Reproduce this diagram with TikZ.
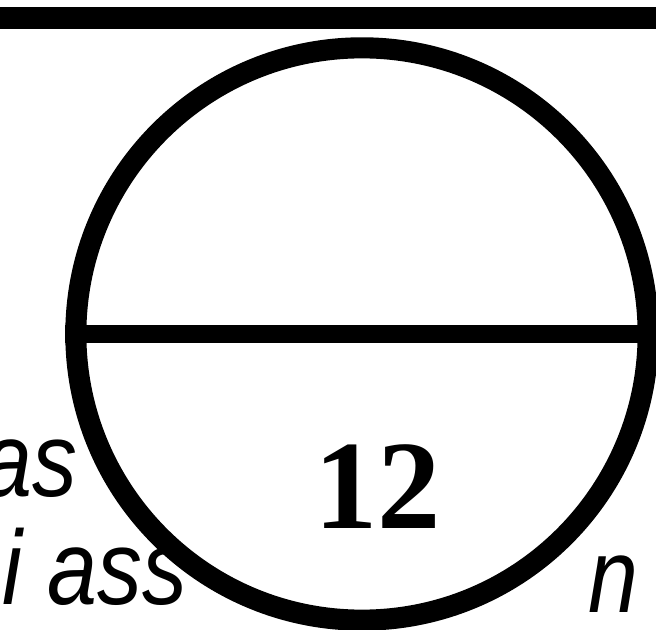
\documentclass[tikz,border=0pt]{standalone}
\usepackage{fontspec}
\usepackage{tikz}
\newfontfamily\scanfont{Liberation Sans}
\newfontfamily\numfont{Liberation Serif}

\begin{document}
\begin{tikzpicture}[x=0.01cm, y=-0.01cm, every node/.style={inner sep=0pt}]
  \useasboundingbox (0,0) rectangle (656,630);
  \tikzset{scan/.style={font=\scanfont\itshape\fontsize{30}{30}\selectfont, xscale=0.85},
           rule/.style={line width=6pt}}

  % text lying under the disc
  \node[scan, anchor=base east] (W1) at (78,497) {as};
  \node[scan, anchor=base west] (W2) at (2,605) {i ass};
  \node[scan, anchor=base west] (W3) at (588,613) {n};

  \coordinate (TL) at (0,18);
  \coordinate (TR) at (656,18);
  \draw [rule, line width=6.5pt] (TL) -- (TR);

  \node[draw, circle, rule, fill=white, minimum size=5.72cm] (C) at (362,334) {};
  \coordinate (R) at (656,334);
  \draw [rule, line width=5pt] (C.west) -- (R);

  \node[font=\numfont\bfseries\fontsize{36}{36}\selectfont] (N) at (378,487) {12};
\end{tikzpicture}
\end{document}
